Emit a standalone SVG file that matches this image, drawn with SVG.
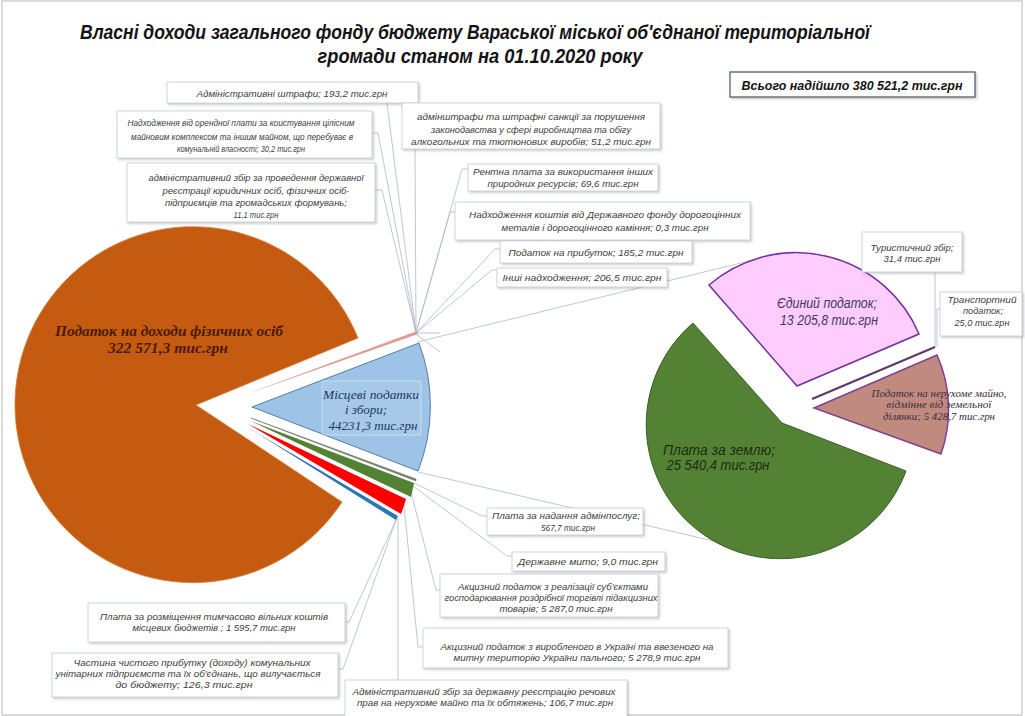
<svg xmlns="http://www.w3.org/2000/svg" width="1025" height="716" viewBox="0 0 1025 716">
<defs>
<filter id="sh" x="-10%" y="-20%" width="120%" height="150%">
<feDropShadow dx="1.5" dy="1.5" stdDeviation="1.2" flood-color="#8a8a8a" flood-opacity="0.45"/>
</filter>
<style>
.lb{fill:#fff;stroke:#C2CEDD;stroke-width:0.8;filter:url(#sh)}
.lt{font-family:"Liberation Sans",Arial,sans-serif;font-style:italic;font-size:9.7px;fill:#404040;text-anchor:middle}
.ld{fill:none;stroke:#AEB9C7;stroke-width:0.8}
.ttl{font-family:"Liberation Sans Narrow","Liberation Sans",Arial,sans-serif;font-style:italic;font-weight:bold;font-size:21px;fill:#141414;text-anchor:middle}
.ps{font-family:"Liberation Serif","Times New Roman",serif;font-style:italic;text-anchor:middle}
.pa{font-family:"Liberation Sans",Arial,sans-serif;font-style:italic;text-anchor:middle}
</style>
</defs>
<rect x="0" y="0" width="1025" height="716" fill="#ffffff"/>
<rect x="2" y="1" width="1020" height="714" fill="none" stroke="#cfcfcf" stroke-width="1.5"/>

<g id="title">
<text class="ttl" x="475" y="39" textLength="790" lengthAdjust="spacingAndGlyphs">Власні доходи загального фонду бюджету Вараської міської об'єднаної територіальної</text>
<text class="ttl" x="480" y="63" textLength="325" lengthAdjust="spacingAndGlyphs">громади станом на 01.10.2020 року</text>
</g>

<g id="total">
<rect x="730" y="72" width="245" height="25" fill="#fff" stroke="#44546A" stroke-width="1.2" filter="url(#sh)"/>
<text x="852" y="90" font-family="'Liberation Sans Narrow','Liberation Sans',Arial,sans-serif" font-style="italic" font-weight="bold" font-size="13" fill="#141414" text-anchor="middle" textLength="221" lengthAdjust="spacingAndGlyphs">Всього надійшло 380 521,2 тис.грн</text>
</g>

<g id="connectors">
<path class="ld" d="M417,342 L782,253"/>
<path class="ld" d="M418,472 L782,557"/>
<path class="ld" d="M387,103 L416,333"/>
<path class="ld" d="M372,133 L378,133 L416,333"/>
<path class="ld" d="M375,190 L382,190 L416,333"/>
<path class="ld" d="M415,149 L416,333"/>
<path class="ld" d="M468,169 L462,169 L416,333"/>
<path class="ld" d="M455,212 L450,212 L416,333"/>
<path class="ld" d="M500,249 L495,249 L416,333"/>
<path class="ld" d="M497,270 L492,270 L416,333"/>
<path class="ld" d="M416,333 L440,333"/>
<path class="ld" d="M416,334 L440,352"/>
<path class="ld" d="M487,516 L482,516 L414,483"/>
<path class="ld" d="M512,556 L507,556 L413,486"/>
<path class="ld" d="M440,590 L436,590 L411,492"/>
<path class="ld" d="M423,647 L418,647 L404,505"/>
<path class="ld" d="M398,680 L398,518"/>
<path class="ld" d="M345,622 L349,622 L397,518"/>
<path class="ld" d="M338,669 L343,669 L396,520"/>
<path class="ld" d="M935,272 L935,347"/>
<path class="ld" d="M940,309 L937,309 L937,347"/>
</g>

<g id="slice-pdfo">
<path d="M196,405 L342,502 A178,178 0 1 1 358,338 Z" fill="#C55A11" stroke="#D9823F" stroke-width="0.8"/>
<text class="ps" x="169" y="336" font-size="15" font-weight="bold" fill="#4A1A06" textLength="228" lengthAdjust="spacingAndGlyphs">Податок на доходи фізичних осіб</text>
<text class="ps" x="168" y="353" font-size="15" font-weight="bold" fill="#4A1A06" textLength="120" lengthAdjust="spacingAndGlyphs">322 571,3 тис.грн</text>
</g>

<g id="slice-small-top">
<path d="M244,395 L417,331 L418,334 Z" fill="#E39A94"/>
</g>

<g id="slice-local">
<path d="M252,407 L419,343 A178,178 0 0 1 418,471 Z" fill="#9DC3E6" stroke="#4F7FA8" stroke-width="1"/>
<rect x="322" y="381" width="99" height="54" fill="#ffffff" fill-opacity="0.1" stroke="#ffffff" stroke-opacity="0.5" stroke-width="0.8"/>
<text class="ps" x="371" y="399" font-size="13" fill="#1F3864" textLength="96" lengthAdjust="spacingAndGlyphs">Місцеві податки</text>
<text class="ps" x="366" y="414" font-size="13" fill="#1F3864">і збори;</text>
<text class="ps" x="373" y="430" font-size="13" fill="#1F3864" textLength="89" lengthAdjust="spacingAndGlyphs">44231,3 тис.грн</text>
</g>

<g id="slice-adminposlugy">
<path d="M251,418 L416,479 L416,481 Z" fill="#6E7B66" stroke="#6E7B66" stroke-width="0.5"/>
</g>
<g id="slice-akcyz-torg">
<path d="M251,421 L414,483 A178,178 0 0 1 411,497 Z" fill="#548235"/>
</g>
<g id="slice-akcyz-palne">
<path d="M248,424 L406,499 A176,176 0 0 1 401,514 Z" fill="#FF0000"/>
</g>
<g id="slice-rozmishchennia">
<path d="M247,427 L398,516 L396,520 Z" fill="#2E75B6"/>
</g>

<g id="slice-zemlia">
<path d="M782,423 L906,471 A134,134 0 1 1 693,323 Z" fill="#548235" stroke="#3A5F22" stroke-width="1"/>
<text class="pa" x="719" y="455" font-size="14.5" fill="#1E2C12" textLength="112" lengthAdjust="spacingAndGlyphs">Плата за землю;</text>
<text class="pa" x="718" y="470" font-size="14.5" fill="#1E2C12" textLength="103" lengthAdjust="spacingAndGlyphs">25 540,4 тис.грн</text>
</g>

<g id="slice-yedynyi">
<path d="M797,386 L709,285 A133.5,133.5 0 0 1 919,334 Z" fill="#FFCCFF" stroke="#7030A0" stroke-width="1.5"/>
<rect x="774" y="292" width="108" height="38" fill="none" stroke="#E8D8EE" stroke-width="0.8"/>
<text class="pa" x="827" y="308" font-size="14" fill="#3E3A5C" textLength="100" lengthAdjust="spacingAndGlyphs">Єдиний податок;</text>
<text class="pa" x="829" y="325" font-size="14" fill="#3E3A5C" textLength="98" lengthAdjust="spacingAndGlyphs">13 205,8 тис.грн</text>
</g>

<g id="slice-turyst-transport">
<path d="M812,399 L935,347" stroke="#5B3A6B" stroke-width="2.2" fill="none"/>
</g>

<g id="slice-nerukhome">
<path d="M814,408 L937,355 A134,134 0 0 1 941,454 Z" fill="#C08A7F" stroke="#7F3F8F" stroke-width="1.5"/>
<text class="ps" x="939" y="397" font-size="10.5" fill="#3A2A40" textLength="135" lengthAdjust="spacingAndGlyphs">Податок на нерухоме майно,</text>
<text class="ps" x="939" y="408" font-size="10.5" fill="#3A2A40" textLength="105" lengthAdjust="spacingAndGlyphs">відмінне від земельної</text>
<text class="ps" x="939" y="420" font-size="10.5" fill="#3A2A40" textLength="112" lengthAdjust="spacingAndGlyphs">ділянки; 5 428,7 тис.грн</text>
</g>

<g id="lbl-adminshtrafy">
<rect class="lb" x="167" y="82" width="251" height="21"/>
<text class="lt" x="292" y="97" textLength="191" lengthAdjust="spacingAndGlyphs">Адміністративні штрафи;  193,2 тис.грн</text>
</g>

<g id="lbl-orenda">
<rect class="lb" x="117" y="111" width="255" height="47"/>
<text class="lt" x="241" y="126" textLength="227" lengthAdjust="spacingAndGlyphs">Надходження від орендної плати за коистування цілісним</text>
<text class="lt" x="242" y="140" textLength="222" lengthAdjust="spacingAndGlyphs">майновим комплексом та іншим майном, що перебуває в</text>
<text class="lt" x="241" y="152" textLength="128" lengthAdjust="spacingAndGlyphs">комунальній власності;  30,2 тис.грн</text>
</g>

<g id="lbl-reiestratsiia">
<rect class="lb" x="127" y="163" width="248" height="59"/>
<text class="lt" x="256" y="181" textLength="215" lengthAdjust="spacingAndGlyphs">адміністративний збір за проведення державної</text>
<text class="lt" x="256" y="194" textLength="187" lengthAdjust="spacingAndGlyphs">реєстрації юридичних осіб, фізичних осіб-</text>
<text class="lt" x="256" y="206" textLength="182" lengthAdjust="spacingAndGlyphs">підприємців та громадських формувань;</text>
<text class="lt" x="256" y="218" textLength="45" lengthAdjust="spacingAndGlyphs">11,1 тис.грн</text>
</g>

<g id="lbl-alko">
<rect class="lb" x="402" y="103" width="258" height="46"/>
<text class="lt" x="531" y="120" textLength="228" lengthAdjust="spacingAndGlyphs">адмінштрафи та штрафні санкції за порушення</text>
<text class="lt" x="531" y="133" textLength="200" lengthAdjust="spacingAndGlyphs">законодавства у сфері виробництва та обігу</text>
<text class="lt" x="531" y="145" textLength="240" lengthAdjust="spacingAndGlyphs">алкогольних та тютюнових виробів;  51,2 тис.грн</text>
</g>

<g id="lbl-renta">
<rect class="lb" x="468" y="164" width="190" height="27"/>
<text class="lt" x="563" y="175" textLength="180" lengthAdjust="spacingAndGlyphs">Рентна плата за використання інших</text>
<text class="lt" x="563" y="187" textLength="151" lengthAdjust="spacingAndGlyphs">природних ресурсів;  69,6 тис.грн</text>
</g>

<g id="lbl-derzhfond">
<rect class="lb" x="455" y="202" width="295" height="38"/>
<text class="lt" x="605" y="218" textLength="272" lengthAdjust="spacingAndGlyphs">Надходження коштів від Державного фонду дорогоцінних</text>
<text class="lt" x="605" y="231" textLength="207" lengthAdjust="spacingAndGlyphs">металів і дорогоцінного каміння;  0,3 тис.грн</text>
</g>

<g id="lbl-prybutok">
<rect class="lb" x="500" y="241" width="192" height="22"/>
<text class="lt" x="596" y="256" textLength="175" lengthAdjust="spacingAndGlyphs">Податок на прибуток;  185,2 тис.грн</text>
</g>

<g id="lbl-inshi">
<rect class="lb" x="497" y="268" width="170" height="19"/>
<text class="lt" x="582" y="281" textLength="159" lengthAdjust="spacingAndGlyphs">Інші надходження;  206,5 тис.грн</text>
</g>

<g id="lbl-turystychnyi">
<rect class="lb" x="862" y="232" width="100" height="40"/>
<text class="lt" x="912" y="251" textLength="83" lengthAdjust="spacingAndGlyphs">Туристичний збір;</text>
<text class="lt" x="912" y="262" textLength="57" lengthAdjust="spacingAndGlyphs">31,4 тис.грн</text>
</g>

<g id="lbl-transportnyi">
<rect class="lb" x="940" y="292" width="82" height="44"/>
<text class="lt" x="982" y="303" textLength="69" lengthAdjust="spacingAndGlyphs">Транспортний</text>
<text class="lt" x="983" y="314" textLength="40" lengthAdjust="spacingAndGlyphs">податок;</text>
<text class="lt" x="982" y="326" textLength="55" lengthAdjust="spacingAndGlyphs">25,0 тис.грн</text>
</g>

<g id="lbl-adminposlugy">
<rect class="lb" x="487" y="508" width="156" height="27"/>
<text class="lt" x="566" y="519" textLength="148" lengthAdjust="spacingAndGlyphs">Плата за надання адмінпослуг;</text>
<text class="lt" x="568" y="531" textLength="54" lengthAdjust="spacingAndGlyphs">567,7 тис.грн</text>
</g>

<g id="lbl-myto">
<rect class="lb" x="512" y="552" width="153" height="19"/>
<text class="lt" x="588" y="565" textLength="140" lengthAdjust="spacingAndGlyphs">Державне мито;  9,0 тис.грн</text>
</g>

<g id="lbl-akcyz-torg">
<rect class="lb" x="440" y="574" width="218" height="43"/>
<text class="lt" x="553" y="590" textLength="190" lengthAdjust="spacingAndGlyphs">Акцизний податок з реалізації суб'єктами</text>
<text class="lt" x="551" y="601" textLength="213" lengthAdjust="spacingAndGlyphs">господарювання роздрібної торгівлі підакцизних</text>
<text class="lt" x="556" y="612" textLength="113" lengthAdjust="spacingAndGlyphs">товарів; 5 287,0 тис.грн</text>
</g>

<g id="lbl-akcyz-palne">
<rect class="lb" x="423" y="628" width="305" height="40"/>
<text class="lt" x="577" y="650" textLength="273" lengthAdjust="spacingAndGlyphs">Акцизний податок з виробленого в Україні та ввезеного на</text>
<text class="lt" x="577" y="661" textLength="247" lengthAdjust="spacingAndGlyphs">митну територію України пального; 5 278,9 тис.грн</text>
</g>

<g id="lbl-rechovi-prava">
<rect class="lb" x="345" y="680" width="282" height="40"/>
<text class="lt" x="484" y="695" textLength="263" lengthAdjust="spacingAndGlyphs">Адміністративний збір за державну реєстрацію речових</text>
<text class="lt" x="485" y="706" textLength="256" lengthAdjust="spacingAndGlyphs">прав на нерухоме майно та їх обтяжень;  106,7 тис.грн</text>
</g>

<g id="lbl-rozmishchennia">
<rect class="lb" x="88" y="603" width="257" height="39"/>
<text class="lt" x="214" y="620" textLength="228" lengthAdjust="spacingAndGlyphs">Плата за розміщення тимчасово вільних коштів</text>
<text class="lt" x="214" y="631" textLength="163" lengthAdjust="spacingAndGlyphs">місцевих бюджетів ; 1 595,7 тис.грн</text>
</g>

<g id="lbl-chastyna-prybutku">
<rect class="lb" x="52" y="653" width="286" height="44"/>
<text class="lt" x="192" y="666" textLength="237" lengthAdjust="spacingAndGlyphs">Частина чистого прибутку (доходу)  комунальних</text>
<text class="lt" x="188" y="677" textLength="265" lengthAdjust="spacingAndGlyphs">унітарних підприємств та їх об'єднань, що вилучається</text>
<text class="lt" x="184" y="688" textLength="137" lengthAdjust="spacingAndGlyphs">до бюджету;  126,3 тис.грн</text>
</g>
</svg>
